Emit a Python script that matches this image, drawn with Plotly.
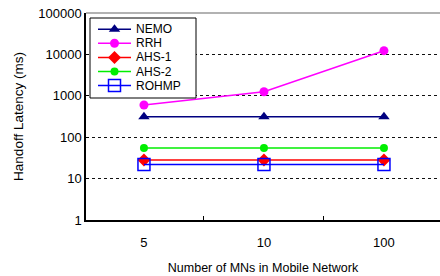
import plotly.graph_objects as go

categories = ["5", "10", "100"]
nemo = [310, 310, 310]
rrh = [600, 1250, 12300]
ahs1 = [28, 28, 28]
ahs2 = [55, 55, 55]
rohmp = [22, 22, 22]
y_ticks = [1, 10, 100, 1000, 10000, 100000]
y_tick_labels = ["1", "10", "100", "1000", "10000", "100000"]

FONT = "Liberation Sans, Arial, sans-serif"
W, H = 440, 276
L, R, T, B = 86, 440, 13, 220  # plot area in pixels

series = [
    ("NEMO", nemo, "#000080", dict(symbol="triangle-up", size=10, color="#000080")),
    ("RRH", rrh, "#FF00FF", dict(symbol="circle", size=9, color="#FF00FF")),
    ("AHS-1", ahs1, "#FF0000", dict(symbol="diamond", size=10, color="#FF0000")),
    ("AHS-2", ahs2, "#00EE00", dict(symbol="circle", size=8, color="#00EE00")),
    ("ROHMP", rohmp, "#0000FF", dict(symbol="square-open", size=12, color="#0000FF", line=dict(width=1.5))),
]

fig = go.Figure()
for name, vals, col, mk in series:
    fig.add_trace(go.Scatter(
        x=categories, y=vals, name=name, mode="lines+markers",
        line=dict(color=col, width=1.5), marker=mk, showlegend=False,
    ))

# custom compact legend drawn on a pixel-scaled overlay axis
bx0, bx1, by0, by1 = 90, 196, 18, 98
row0, row_step = 29.2, 14.1
line_x0, line_x1, text_x = 98, 131, 135
fig.add_trace(go.Scatter(
    x=[bx0, bx1, bx1, bx0, bx0], y=[by0, by0, by1, by1, by0],
    mode="lines", fill="toself", fillcolor="white",
    line=dict(color="black", width=1), xaxis="x2", yaxis="y2",
    showlegend=False, hoverinfo="skip",
))
annotations = []
for i, (name, vals, col, mk) in enumerate(series):
    yy = row0 + i * row_step
    fig.add_trace(go.Scatter(
        x=[line_x0, line_x1], y=[yy, yy],
        mode="lines", line=dict(color=col, width=1.5),
        xaxis="x2", yaxis="y2", showlegend=False, hoverinfo="skip",
    ))
    fig.add_trace(go.Scatter(
        x=[(line_x0 + line_x1) / 2], y=[yy], mode="markers", marker=mk,
        xaxis="x2", yaxis="y2", showlegend=False, hoverinfo="skip",
    ))
    annotations.append(dict(
        xref="x2", yref="y2", x=text_x, y=yy, text=name, showarrow=False,
        xanchor="left", yanchor="middle", borderpad=0,
        font=dict(family=FONT, size=12, color="black"),
    ))

shapes = [dict(type="line", xref="paper", yref="paper", x0=0, x1=1, y0=1, y1=1,
               line=dict(color="#999999", width=1.5), layer="below")]

fig.update_layout(
    width=W, height=H,
    margin=dict(l=L, r=W - R, t=T, b=H - B),
    paper_bgcolor="white", plot_bgcolor="white",
    font=dict(family=FONT, size=13, color="black"),
    showlegend=False,
    shapes=shapes, annotations=annotations,
    xaxis2=dict(overlaying="x", range=[L, R], visible=False, fixedrange=True),
    yaxis2=dict(overlaying="y", range=[B, T], visible=False, fixedrange=True),
    xaxis=dict(
        type="category", range=[-0.483, 2.467], automargin=False,
        showline=True, linecolor="black", linewidth=1.5,
        ticks="inside", tickson="boundaries", ticklen=4, tickcolor="black",
        showgrid=False, zeroline=False,
        tickfont=dict(size=13), ticklabelstandoff=10,
        title=dict(text="Number of MNs in Mobile Network", font=dict(size=12.5), standoff=14),
    ),
    yaxis=dict(
        type="log", range=[0, 5], automargin=False,
        tickvals=y_ticks, ticktext=y_tick_labels, ticklabeloverflow="allow",
        showline=True, linecolor="black", linewidth=1.5,
        showgrid=True, gridcolor="#111111", griddash="3px,3px", gridwidth=1,
        zeroline=False, ticks="inside", ticklen=3, tickcolor="black",
        tickfont=dict(size=13),
        title=dict(text="Handoff Latency (ms)", font=dict(size=13.5), standoff=12),
    ),
)

fig.write_html("out.html", config={"displayModeBar": False},
               post_script="document.body.style.margin='0';")
